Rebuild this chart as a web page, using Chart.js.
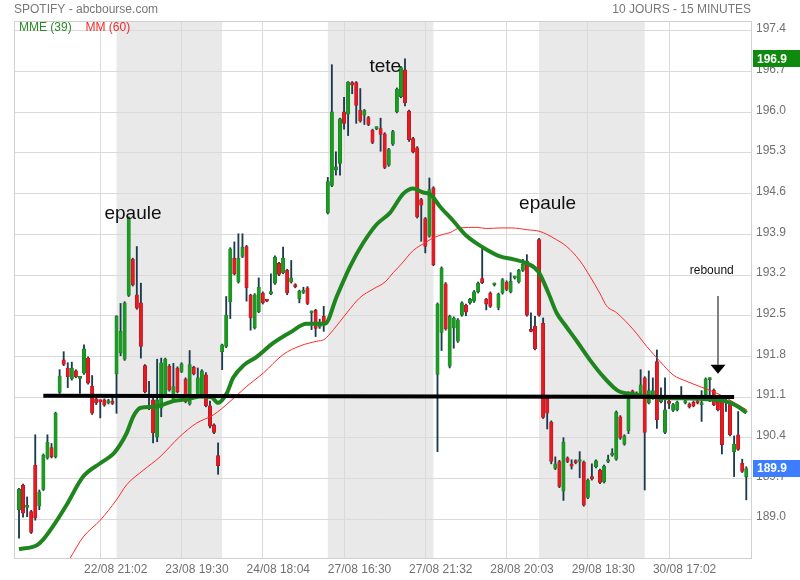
<!DOCTYPE html>
<html><head><meta charset="utf-8">
<script src="https://cdn.jsdelivr.net/npm/chart.js@4.4.1/dist/chart.umd.min.js"></script>
<style>html,body{margin:0;padding:0;background:#fff;}#wrap{position:relative;width:800px;height:580px;}</style>
</head><body><div id="wrap"><canvas id="c" width="800" height="580"></canvas></div>
<script>
// ---- data (15-minute candles, index 0..179) ----
const opens = [
189.16,189.58,189.20,189.13,189.93,189.22,189.51,190.05,190.23,190.07,191.18,191.74,191.60,191.41,191.55,191.42,191.51,191.77,191.29,191.07,191.03,191.05,191.00,191.02,
191.50,191.86,191.75,192.85,193.47,192.86,192.72,191.64,191.12,191.05,190.41,190.91,191.11,191.63,191.05,191.60,191.54,191.41,190.98,191.61,191.11,191.11,191.48,190.95,190.62,190.09,
191.88,191.97,192.74,193.49,193.08,193.52,193.69,192.85,192.29,192.57,192.89,192.76,192.88,193.06,193.40,193.24,193.28,193.08,193.03,192.79,192.90,192.98,192.55,192.59,192.30,192.49,
194.27,194.74,195.01,195.12,196.01,195.97,196.51,196.51,196.04,195.95,195.91,195.69,195.72,195.72,195.63,195.09,195.45,196.01,196.27,196.73,196.02,195.55,195.39,194.50,194.17,193.87,
194.70,191.49,192.21,193.05,191.63,192.29,192.06,192.51,192.68,192.72,192.75,192.91,193.14,192.78,192.89,193.03,192.64,192.89,193.08,192.91,193.15,193.08,193.28,193.44,192.24,192.32,
193.81,192.37,191.11,190.67,189.87,189.99,189.48,190.05,189.94,190.00,189.99,189.98,189.37,189.73,189.90,189.84,189.64,189.99,190.10,190.03,190.76,190.29,190.52,191.20,191.11,191.17,
191.43,191.00,191.08,191.71,191.02,190.49,191.03,190.87,190.88,191.09,191.00,190.98,191.01,191.02,190.97,191.14,191.40,191.22,191.02,191.06,191.00,191.02,190.16,190.45,189.96,189.73];
const highs = [
189.53,189.60,189.38,189.15,190.45,189.50,190.12,190.45,190.30,190.84,191.57,191.88,191.69,191.70,191.57,191.45,192.00,191.79,191.47,191.09,191.05,191.07,191.06,191.12,
192.50,192.71,192.74,194.20,193.49,193.69,193.06,191.66,191.37,191.09,191.75,191.77,191.77,191.66,191.68,191.62,191.69,191.43,191.90,191.63,191.60,191.57,191.52,191.03,190.64,190.31,
192.01,192.83,193.67,193.77,193.91,193.91,193.71,192.87,192.88,193.15,192.91,192.77,193.22,193.53,193.42,193.68,193.30,193.45,193.05,192.94,192.99,193.00,192.58,192.61,192.44,192.66,
194.88,196.82,195.32,195.90,196.26,196.53,196.53,196.53,196.41,196.05,195.93,195.71,195.75,195.90,195.65,195.38,195.69,196.42,196.79,196.92,196.04,195.57,195.41,194.52,194.19,194.87,
194.72,192.72,193.34,193.07,192.51,192.48,192.45,192.74,192.70,192.80,192.93,193.08,193.69,192.80,192.91,193.06,192.89,193.14,193.10,193.24,193.17,193.30,193.47,193.55,192.55,192.49,
193.83,192.46,191.13,190.69,190.07,190.01,190.40,190.07,190.02,190.02,190.16,190.00,189.69,189.95,190.02,189.86,189.93,190.10,190.21,190.86,190.78,190.45,191.19,191.22,191.19,191.57,
191.45,191.55,191.43,191.91,191.26,191.43,191.05,190.99,191.03,191.28,191.06,191.00,191.03,191.04,191.21,191.43,191.43,191.24,191.04,191.08,191.06,191.04,190.43,190.85,190.03,189.90];
const lows = [
188.67,189.03,189.04,188.75,188.98,189.16,189.49,190.03,190.05,190.05,191.16,191.64,191.26,191.39,191.43,191.16,191.49,191.32,190.80,190.97,190.74,190.94,190.98,190.97,
190.82,191.81,191.73,192.83,193.01,192.61,191.77,191.17,190.88,190.31,190.33,190.76,191.09,191.20,191.03,191.17,191.52,191.00,190.96,191.48,191.09,191.09,190.93,190.57,190.47,189.77,
191.57,191.95,192.45,193.20,193.06,193.50,192.75,192.25,192.27,192.55,192.70,192.74,192.86,193.04,193.19,193.22,192.86,193.06,192.98,192.72,192.88,192.69,192.26,192.14,192.28,192.23,
194.25,194.72,194.92,194.92,195.71,195.60,196.32,195.81,195.83,195.79,195.77,195.46,195.70,195.33,195.03,195.07,195.43,195.99,196.25,196.11,195.50,195.30,194.18,193.78,193.58,193.85,
193.36,190.16,191.90,192.25,191.60,191.94,192.04,192.49,192.50,192.70,192.73,192.89,193.05,192.60,192.64,193.01,192.60,192.87,192.93,192.89,193.13,193.06,193.26,192.49,192.22,191.91,
192.49,190.73,190.55,189.95,189.85,189.54,189.32,189.97,189.86,189.95,189.71,189.22,189.35,189.67,189.88,189.61,189.62,189.97,190.08,190.01,190.37,190.27,190.47,191.15,191.09,191.15,
189.50,190.98,191.06,190.56,191.00,190.47,190.90,190.85,190.86,191.07,190.98,190.91,190.93,190.98,190.68,191.12,191.02,190.95,190.86,190.12,190.85,190.43,189.73,190.18,189.80,189.33];
const closes = [
189.51,189.10,189.22,188.77,189.02,189.47,190.10,190.32,190.07,190.82,191.46,191.66,191.45,191.60,191.45,191.43,191.93,191.34,190.82,191.00,191.02,190.96,191.04,190.99,
192.49,192.23,192.72,194.18,193.03,192.63,191.97,191.19,191.10,190.48,191.05,191.69,191.75,191.22,191.28,191.19,191.67,191.02,191.66,191.50,191.43,191.55,190.95,190.60,190.49,189.92,
192.00,192.51,193.65,193.22,193.49,193.68,192.98,192.46,192.86,192.99,192.72,192.75,192.91,193.51,193.21,193.49,192.89,193.15,193.00,192.92,192.91,192.71,192.57,192.28,192.34,192.37,
194.81,196.01,195.06,195.89,195.81,196.52,196.47,196.12,195.85,196.03,195.79,195.48,195.73,195.62,195.05,195.36,195.67,196.40,196.77,196.16,195.53,195.32,194.20,194.40,193.69,194.67,
193.38,192.70,193.32,192.27,192.49,192.46,192.43,192.72,192.56,192.78,192.91,193.06,193.07,192.70,192.66,193.04,192.87,193.12,192.95,193.09,193.15,193.28,193.39,192.51,192.23,191.93,
192.51,190.75,190.82,189.99,189.95,189.56,190.32,189.99,189.91,189.97,190.02,189.24,189.67,189.69,190.00,189.63,189.91,190.02,190.13,190.84,190.39,190.43,191.17,191.17,191.17,191.31,
190.49,191.21,191.21,190.71,191.09,190.88,190.99,190.97,191.01,191.12,191.04,190.93,190.95,191.00,190.98,191.41,191.42,190.97,190.88,190.28,191.03,190.45,190.29,190.20,189.82,189.87];

// MME (39) (candle index, value)
const mmeIdx = [0,4.4,6,9.1,11.7,15.8,20,23.2,24.9,26.5,28.1,29.8,33,35.5,38,41.3,44.5,47.3,49,51.1,52.7,55.2,58.5,62.6,66.7,70.8,75.3,78.2,81.5,84.7,88,91.3,94.6,97,99.5,101.2,103.6,106.9,110.2,114.3,118.4,121.7,125,127.8,130.3,132.3,134.4,137.3,140.5,143.8,146.3,147.9,151.2,155.3,159.4,163.5,167.6,171.7,174.2,176.6,179.1];
const mmeVal = [188.48,188.55,188.65,188.95,189.24,189.73,189.96,190.12,190.28,190.48,190.76,190.91,190.93,190.97,191.03,191.06,191.11,191.10,191.00,191.16,191.43,191.64,191.79,192.03,192.21,192.36,192.36,192.83,193.35,193.75,194.07,194.27,194.60,194.69,194.62,194.59,194.38,194.13,193.87,193.67,193.52,193.47,193.40,193.26,192.89,192.55,192.34,192.06,191.74,191.45,191.27,191.19,191.15,191.11,191.08,191.08,191.07,191.05,191.02,190.95,190.83];
// MM (60)
const mmIdx = [12.6,15.8,20,24,26.5,30.6,34.7,39.6,43.7,47.8,51.9,56,60.1,65,69.2,73.3,75.1,77.4,80.7,83.9,87.2,90.1,92.1,94,97,100.3,102,104.4,106.1,108.5,112.7,115.1,118.4,121.3,125,128.2,129.9,131.5,134.8,138.1,140.5,143,144.6,147.1,151.2,154.5,157.8,161,164.3,167.6,170.9,174.2,176.6,179.1];
const mmVal = [188.33,188.69,188.98,189.33,189.59,189.84,190.07,190.42,190.65,190.79,191.02,191.28,191.51,191.83,191.98,192.06,192.09,192.26,192.55,192.81,192.96,193.08,193.24,193.38,193.62,193.77,193.84,193.90,193.93,194.01,194.02,194.00,194.01,194.01,193.98,193.95,193.90,193.84,193.69,193.44,193.18,192.88,192.67,192.55,192.26,191.97,191.71,191.48,191.37,191.28,191.19,191.08,190.98,190.88];
// hand-drawn support line (neckline)
const trendIdx = [5.98, 176.0];
const trendVal = [191.12, 191.10];

// sessions shaded (start index, end index)
const shadeStart = [24, 76, 128];
const shadeEnd = [50, 102, 154];

// axis ticks
const xTickIdx = [20, 40, 60, 80, 100, 120, 140, 160];
const xTickLabels = ['22/08 21:02','23/08 19:30','24/08 18:04','27/08 16:30','27/08 21:32','28/08 20:03','29/08 18:30','30/08 17:02'];
const yTicks = [189.0,189.7,190.4,191.1,191.8,192.5,193.2,193.9,194.6,195.3,196.0,196.7,197.4];

// text annotations (anchor index, value)
const notes = [
  {text:'epaule', idx:28.06, val:194.17, size:19},
  {text:'tete', idx:90.15, val:196.70, size:19},
  {text:'epaule', idx:130.1, val:194.34, size:19},
  {text:'rebound', idx:170.5, val:193.21, size:12}
];
const arrow = {idx:172.1, from:192.84, to:191.50};

// ---- rendering ----
const FONT = '"Liberation Sans", Arial, sans-serif';
Chart.defaults.font.family = FONT;
const GREEN = '#1d9a24', GREEN_B = '#17801d', RED = '#e31b23', RED_B = '#b0161d', WICK = '#1d3b4f';
const idx = opens.map((_, i) => i);
const up = idx.map(i => closes[i] >= opens[i]);
const labelMap = {}; xTickIdx.forEach((v, k) => labelMap[v] = xTickLabels[k]);

const decor = {
  id: 'decor',
  beforeDraw(chart) {
    const {ctx, chartArea: a, scales: {x}} = chart;
    ctx.save();
    ctx.fillStyle = '#fff';
    ctx.fillRect(0, 0, chart.width, chart.height);
    ctx.fillStyle = '#e9e9e9';
    shadeStart.forEach((s, k) => {
      const x0 = x.getPixelForValue(s), x1 = x.getPixelForValue(shadeEnd[k]);
      ctx.fillRect(x0, a.top, x1 - x0, a.bottom - a.top);
    });
    ctx.restore();
  },
  afterDraw(chart) {
    const {ctx, chartArea: a, scales: {x, y}} = chart;
    ctx.save();
    ctx.strokeStyle = '#d0d0d0'; ctx.lineWidth = 1;
    ctx.strokeRect(a.left + 0.5, a.top + 0.5, a.right - a.left, a.bottom - a.top);
    // header
    ctx.font = '12px ' + FONT; ctx.textBaseline = 'alphabetic';
    ctx.fillStyle = '#777'; ctx.textAlign = 'left';
    ctx.fillText('SPOTIFY - abcbourse.com', a.left, 13);
    ctx.textAlign = 'right';
    ctx.fillText('10 JOURS - 15 MINUTES', a.right, 13);
    // legend
    ctx.textAlign = 'left';
    ctx.fillStyle = '#2a8a2a'; ctx.fillText('MME (39)', a.left + 5, a.top + 10);
    ctx.fillStyle = '#f02a2a'; ctx.fillText('MM (60)', a.left + 71.5, a.top + 10);
    // annotations
    ctx.textAlign = 'center'; ctx.fillStyle = '#111';
    notes.forEach(n => {
      ctx.font = n.size + 'px ' + FONT;
      ctx.fillText(n.text, x.getPixelForValue(n.idx), y.getPixelForValue(n.val));
    });
    // arrow
    const ax = Math.round(x.getPixelForValue(arrow.idx));
    const ay0 = y.getPixelForValue(arrow.from), ay1 = y.getPixelForValue(arrow.to);
    ctx.strokeStyle = '#808080'; ctx.lineWidth = 2;
    ctx.beginPath(); ctx.moveTo(ax, ay0); ctx.lineTo(ax, ay1 - 9); ctx.stroke();
    ctx.fillStyle = '#000';
    ctx.beginPath(); ctx.moveTo(ax - 7.5, ay1 - 9); ctx.lineTo(ax + 7.5, ay1 - 9); ctx.lineTo(ax, ay1); ctx.closePath(); ctx.fill();
    // price tags
    const tags = [
      {value: Math.max(...highs), color: '#0f8a0f'},
      {value: closes[closes.length - 1], color: '#3d7dff'}
    ];
    ctx.font = 'bold 12px ' + FONT; ctx.textAlign = 'left'; ctx.textBaseline = 'middle';
    tags.forEach(t => {
      const py = y.getPixelForValue(t.value);
      ctx.fillStyle = t.color;
      ctx.fillRect(a.right + 2, Math.round(py - 8.5), chart.width - a.right - 2, 17);
      ctx.fillStyle = '#fff';
      ctx.fillText(t.value.toFixed(1), a.right + 6, py + 0.5);
    });
    ctx.restore();
  }
};

new Chart(document.getElementById('c'), {
  type: 'bar',
  data: {
    datasets: [
      {type: 'line', label: 'support', data: trendIdx.map((v, k) => ({x: v, y: trendVal[k]})),
       borderColor: '#000', borderWidth: 4, pointRadius: 0, order: 0},
      {type: 'line', label: 'MME (39)', data: mmeIdx.map((v, k) => ({x: v, y: mmeVal[k]})),
       borderColor: '#1f861f', borderWidth: 4, pointRadius: 0, cubicInterpolationMode: 'monotone', order: 1},
      {type: 'line', label: 'MM (60)', data: mmIdx.map((v, k) => ({x: v, y: mmVal[k]})),
       borderColor: '#ff2a2a', borderWidth: 1, pointRadius: 0, cubicInterpolationMode: 'monotone', order: 2},
      {label: 'body', data: idx.map(i => ({x: i, y: [opens[i], closes[i]]})),
       backgroundColor: up.map(u => u ? GREEN : RED), borderColor: up.map(u => u ? GREEN_B : RED_B),
       borderWidth: 0.6, borderSkipped: false, barThickness: 3.4, minBarLength: 2, grouped: false, order: 3},
      {label: 'wick', data: idx.map(i => ({x: i, y: [lows[i], highs[i]]})),
       backgroundColor: WICK, borderWidth: 0, barThickness: 1.2, grouped: false, order: 4}
    ]
  },
  options: {
    responsive: false, animation: false, devicePixelRatio: 1,
    layout: {padding: {left: 14, top: 21, right: 0, bottom: 0}},
    plugins: {legend: {display: false}, tooltip: {enabled: false}},
    scales: {
      x: {
        type: 'linear', min: -1.23, max: 180.16, offset: false,
        afterBuildTicks: s => { s.ticks = xTickIdx.map(v => ({value: v})); },
        afterFit: s => { s.height = 22; },
        grid: {color: '#dadada', drawTicks: false, offset: false},
        border: {color: '#d0d0d0'},
        ticks: {callback: v => labelMap[v] || '', color: '#707070', font: {size: 12}, padding: 4,
                labelOffset: 15.5, maxRotation: 0, autoSkip: false}
      },
      y: {
        position: 'right', min: 188.329, max: 197.572,
        afterBuildTicks: s => { s.ticks = yTicks.map(v => ({value: v})); },
        afterFit: s => { s.width = 49; },
        grid: {color: '#dadada', drawTicks: false},
        border: {color: '#d0d0d0'},
        ticks: {callback: v => Number(v).toFixed(1), color: '#707070', font: {size: 12}, padding: 5, labelOffset: -2}
      }
    }
  },
  plugins: [decor]
});
</script></body></html>
